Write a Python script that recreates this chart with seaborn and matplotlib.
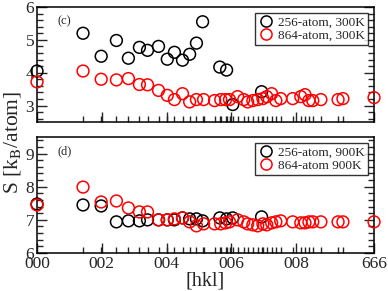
import numpy as np
import pandas as pd
import matplotlib
matplotlib.use("Agg")
import matplotlib.pyplot as plt
from matplotlib.ticker import FixedLocator, MultipleLocator
from matplotlib.lines import Line2D
import seaborn as sns

# ---- data ----
x_black = [0, 1.42, 1.98, 2.45, 2.82, 3.16, 3.41, 3.75, 4.02, 4.24, 4.49, 4.71,
           4.92, 5.11, 5.64, 5.85, 6.04, 6.93]
s_256_300 = [4.05, 5.2, 4.5, 4.98, 4.44, 4.77, 4.68, 4.8, 4.41, 4.62, 4.38, 4.56,
             4.9, 5.55, 4.17, 4.08, 3.03, 3.42]
s_256_900 = [7.48, 7.45, 7.42, 6.94, 6.97, 6.97, 7.0, 7.0, 7.0, 7.0, 7.06, 7.03,
             7.03, 6.97, 7.06, 7.03, 7.06, 7.09]

x_red = [0, 1.42, 1.98, 2.45, 2.82, 3.16, 3.41, 3.75, 4.02, 4.24, 4.49, 4.71,
         4.92, 5.14, 5.48, 5.67, 5.82, 5.94, 6.19, 6.38, 6.50, 6.66, 6.81, 6.97,
         7.09, 7.24, 7.37, 7.52, 7.89, 8.14, 8.27, 8.39, 8.51, 8.76, 9.29, 9.44,
         10.40]
s_864_300 = [3.72, 4.05, 3.8, 3.78, 3.82, 3.64, 3.63, 3.46, 3.31, 3.18, 3.36, 3.11,
             3.18, 3.18, 3.15, 3.18, 3.18, 3.18, 3.27, 3.18, 3.11, 3.15, 3.18, 3.21,
             3.27, 3.36, 3.15, 3.21, 3.21, 3.27, 3.33, 3.15, 3.15, 3.18, 3.18, 3.21,
             3.24]
s_864_900 = [7.45, 7.99, 7.54, 7.57, 7.36, 7.24, 7.24, 7.0, 7.0, 7.03, 7.06, 6.94,
             6.82, 6.88, 6.88, 6.88, 6.91, 6.94, 7.0, 6.94, 6.88, 6.85, 6.82, 6.88,
             6.85, 6.91, 6.94, 6.97, 6.94, 6.91, 6.91, 6.94, 6.94, 6.94, 6.94, 6.94,
             6.94]

xtick_pos = [0, 2, 4, 6, 8, 10.4]
xtick_labels = ["000", "002", "004", "006", "008", "666"]

sns.set_style("ticks")
plt.rcParams["font.family"] = ["Liberation Serif", "DejaVu Serif"]
plt.rcParams["mathtext.fontset"] = "stix"

fig = plt.figure(figsize=(3.88, 2.91), dpi=100)
ax1 = fig.add_axes([0.0954, 0.581, 0.8686, 0.395])
ax2 = fig.add_axes([0.0954, 0.1306, 0.8686, 0.3984])

panels = [
    (ax1, s_256_300, s_864_300, "256-atom, 300K", "864-atom, 300K", (2.5, 6), [3, 4, 5, 6], "(c)"),
    (ax2, s_256_900, s_864_900, "256-atom, 900K", "864-atom 900K", (6, 9.5), [6, 7, 8, 9], "(d)"),
]

for ax, sb, sr, lb, lr, ylim, yt, tag in panels:
    df = pd.concat([
        pd.DataFrame({"x": x_black, "S": sb, "series": lb}),
        pd.DataFrame({"x": x_red, "S": sr, "series": lr}),
    ])
    sns.scatterplot(data=df, x="x", y="S", hue="series",
                    palette={lb: "black", lr: "red"}, ax=ax,
                    s=72, facecolors="none", linewidths=1.1, clip_on=False,
                    marker="o", legend=False)
    coll = ax.collections[0]
    cols = ["black"] * len(x_black) + ["red"] * len(x_red)
    coll.set_facecolors("none")
    coll.set_edgecolors(cols)
    coll.set_zorder(5)

    ax.set_xlim(0, 10.4)
    ax.set_ylim(*ylim)
    ax.set_xticks(xtick_pos)
    ax.xaxis.set_minor_locator(FixedLocator(sorted(set(x_red + x_black))))
    ax.set_yticks(yt)
    ax.yaxis.set_minor_locator(MultipleLocator(0.2))
    ax.tick_params(axis="both", which="major", direction="in", length=7, width=1,
                   labelsize=12.5, right=True, top=False, pad=2)
    ax.tick_params(axis="both", which="minor", direction="in", length=4, width=1,
                   right=True, top=False)
    for sp in ax.spines.values():
        sp.set_visible(True)
        sp.set_linewidth(1.1)
        sp.set_color("black")
    ax.set_xlabel("")
    ax.set_ylabel("")
    ax.text(0.06, 0.93, tag, transform=ax.transAxes, fontsize=9, va="top", ha="left")

    handles = [Line2D([], [], marker="o", ls="none", mfc="none", mec="black", ms=8, mew=1.1),
               Line2D([], [], marker="o", ls="none", mfc="none", mec="red", ms=8, mew=1.1)]
    leg = ax.legend(handles, [lb, lr], loc="upper right", fontsize=9.5,
                    frameon=True, fancybox=False, edgecolor="black",
                    borderpad=0.25, labelspacing=0.1, handletextpad=0.3,
                    handlelength=1.2, borderaxespad=0.45)
    leg.get_frame().set_linewidth(1.0)

ax1.set_xticklabels([])
ax2.set_xticklabels(xtick_labels)
ax2.set_xlabel("[hkl]", fontsize=14.5, labelpad=0)
fig.text(0.032, 0.51, r"S [k$_\mathrm{B}$/atom]", rotation=90, fontsize=15.5,
         va="center", ha="center")

fig.savefig("out.png", dpi=100)
